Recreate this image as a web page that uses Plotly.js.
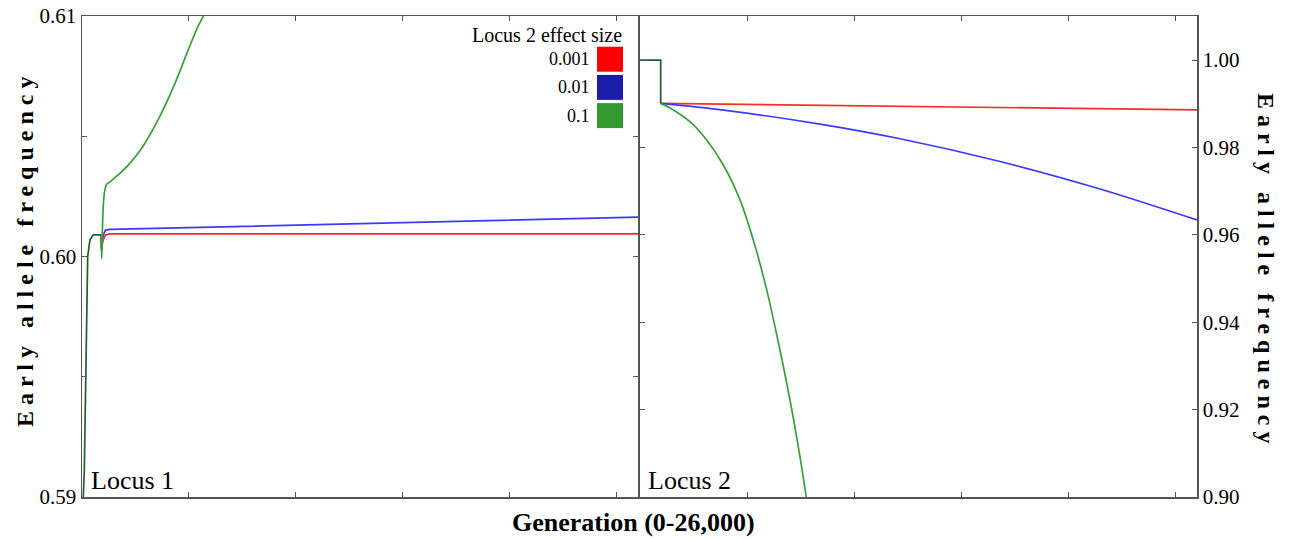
<!DOCTYPE html>
<html>
<head>
<meta charset="utf-8">
<script src="https://cdn.plot.ly/plotly-3.0.1.min.js"></script>
<style>html,body{margin:0;padding:0;background:#fff;}#chart{width:1291px;height:540px;}</style>
</head>
<body>
<div id="chart"></div>
<script>
// ---------------- DATA ----------------
// Locus 1 (left panel): generations and early allele frequency
const l1SharedGen = [0, 61, 108, 173, 234, 267, 374, 528, 888];
const l1SharedVal = [0.5000, 0.5900, 0.5911, 0.5949, 0.5987, 0.6000, 0.6007, 0.6009, 0.6009];

const l1RedGen = [888, 915, 945, 1000, 1100, 1300, 5000, 15000, 26000];
const l1RedVal = [0.6009, 0.6003, 0.6005, 0.6007, 0.6009, 0.60094, 0.60094, 0.60094, 0.60094];

const l1BlueGen = [888, 915, 945, 1000, 1100, 1300, 5000, 10000, 15000, 20000, 26000];
const l1BlueVal = [0.6009, 0.6003, 0.6007, 0.6009, 0.6011, 0.60113, 0.6012, 0.6013, 0.6014, 0.6015, 0.60164];

const l1GreenGen = [888, 921, 950, 1000, 1060, 1150, 1309, 1697, 2165, 2792, 3568, 4349, 4971, 5438, 5672, 6079];
const l1GreenVal = [0.6009, 0.5999, 0.6010, 0.6022, 0.6027, 0.6030, 0.6031, 0.6034, 0.6038, 0.6045, 0.6057, 0.6072, 0.6086, 0.6096, 0.6100, 0.6113];

// Locus 2 (right panel)
const l2SharedGen = [0, 966, 966];
const l2SharedVal = [1.0000, 1.0000, 0.9901];

const l2RedGen = [966, 12137, 26000];
const l2RedVal = [0.9901, 0.9894, 0.9886];

const l2BlueGen = [966, 4000, 8403, 12137, 16805, 21473, 26000];
const l2BlueVal = [0.9901, 0.9885, 0.98535, 0.9820, 0.9768, 0.9705, 0.9634];

const l2GreenGen = [966, 1554, 2334, 3114, 3889, 4669, 5289, 5915, 6535, 7002, 7469, 7782, 8170];
const l2GreenVal = [0.9901, 0.9886, 0.9859, 0.9817, 0.9760, 0.9680, 0.9588, 0.9474, 0.9336, 0.9222, 0.9092, 0.8993, 0.8850];

// Labels
const legendTitle = 'Locus 2 effect size';
const effectSizes = ['0.001', '0.01', '0.1'];
const panelLabels = ['Locus 1', 'Locus 2'];
const yTitle = 'Early allele frequency';
const xTitle = 'Generation (0-26,000)';
const xTickVals = [5000, 10000, 15000, 20000, 25000];
const y1TickVals = [0.59, 0.595, 0.60, 0.605, 0.61];
const y1TickText = ['0.59', '', '0.60', '', '0.61'];
const y2TickVals = [0.90, 0.92, 0.94, 0.96, 0.98, 1.00];

// ---------------- STYLE ----------------
const lineColors = ['#ff2a2a', '#3b3bff', '#3a9e3a'];
const swatchColors = ['#ff0000', '#1c1caa', '#339933'];
const sharedColor = '#1f5f2f';
const FONT = '"Liberation Serif", "Times New Roman", serif';
const W = 1291, H = 540;

function tr(x, y, color, xa, ya, smooth) {
  const line = {color: color, width: 1.7};
  if (smooth) { line.shape = 'spline'; line.smoothing = smooth; }
  return {x: x, y: y, type: 'scatter', mode: 'lines', xaxis: xa, yaxis: ya,
          line: line, hoverinfo: 'skip', showlegend: false};
}

const traces = [
  tr(l1RedGen, l1RedVal, lineColors[0], 'x', 'y'),
  tr(l1BlueGen, l1BlueVal, lineColors[1], 'x', 'y'),
  tr(l1GreenGen, l1GreenVal, lineColors[2], 'x', 'y', 0.8),
  tr(l1SharedGen, l1SharedVal, sharedColor, 'x', 'y'),
  tr(l2RedGen, l2RedVal, lineColors[0], 'x2', 'y2'),
  tr(l2BlueGen, l2BlueVal, lineColors[1], 'x2', 'y2', 1),
  tr(l2GreenGen, l2GreenVal, lineColors[2], 'x2', 'y2', 1),
  tr(l2SharedGen, l2SharedVal, sharedColor, 'x2', 'y2')
];

// pixel layout of panels
const L1 = 82, R1 = 638, L2 = 640, R2 = 1197, TOP = 16, BOT = 497;
const axCommon = {
  showgrid: false, zeroline: false, linecolor: '#555', linewidth: 1.5,
  mirror: 'ticks', ticks: 'inside', ticklen: 5, tickwidth: 1, tickcolor: '#555',
  tickfont: {family: FONT, size: 21, color: '#000'}
};

const layout = {
  width: W, height: H,
  margin: {l: 0, r: 0, t: 0, b: 0},
  paper_bgcolor: '#fff', plot_bgcolor: '#fff',
  showlegend: false,
  font: {family: FONT, color: '#000'},
  xaxis: Object.assign({}, axCommon, {domain: [L1 / W, R1 / W], range: [0, 26000],
    tickvals: xTickVals, showticklabels: false, anchor: 'y'}),
  yaxis: Object.assign({}, axCommon, {domain: [1 - BOT / H, 1 - TOP / H], range: [0.59, 0.61],
    tickvals: y1TickVals, ticktext: y1TickText, anchor: 'x'}),
  xaxis2: Object.assign({}, axCommon, {domain: [L2 / W, R2 / W], range: [0, 26000],
    tickvals: xTickVals, showticklabels: false, anchor: 'y2'}),
  yaxis2: Object.assign({}, axCommon, {domain: [1 - BOT / H, 1 - TOP / H], range: [0.90, 1.0101],
    tickvals: y2TickVals, tickformat: '.2f', side: 'right', anchor: 'x2'}),
  annotations: [],
  shapes: []
};

// panel labels
layout.annotations.push({xref: 'x domain', yref: 'y domain', x: 0.012, y: 0.0,
  xanchor: 'left', yanchor: 'bottom', text: panelLabels[0], showarrow: false,
  font: {family: FONT, size: 26, color: '#000'}});
layout.annotations.push({xref: 'x2 domain', yref: 'y2 domain', x: 0.011, y: 0.0,
  xanchor: 'left', yanchor: 'bottom', text: panelLabels[1], showarrow: false,
  font: {family: FONT, size: 26, color: '#000'}});

// legend (title + right-aligned labels with swatches on the right)
const pxToXd = px => (px - L1) / (R1 - L1);
const pxToYd = py => (BOT - py) / (BOT - TOP);
layout.annotations.push({xref: 'x domain', yref: 'y domain', x: pxToXd(624), y: pxToYd(35),
  xanchor: 'right', yanchor: 'middle', text: legendTitle, showarrow: false,
  font: {family: FONT, size: 20, color: '#000'}});
effectSizes.forEach((lab, i) => {
  const top = 46.7 + i * 28.2;
  layout.shapes.push({type: 'rect', xref: 'x domain', yref: 'y domain',
    x0: pxToXd(597), x1: pxToXd(623), y0: pxToYd(top + 25), y1: pxToYd(top),
    fillcolor: swatchColors[i], line: {width: 0}});
  layout.annotations.push({xref: 'x domain', yref: 'y domain', x: pxToXd(592), y: pxToYd(top + 12.5),
    xanchor: 'right', yanchor: 'middle', text: lab, showarrow: false,
    font: {family: FONT, size: 18, color: '#000'}});
});

// axis titles (spaced bold letters)
const spaced = yTitle.split(' ').map(w => w.split('').join(' ')).join('\u00a0\u00a0\u00a0');
layout.annotations.push({xref: 'paper', yref: 'paper', x: 25 / W, y: 1 - 252 / H,
  xanchor: 'center', yanchor: 'middle', textangle: -90, text: '<b>' + spaced + '</b>', showarrow: false,
  font: {family: FONT, size: 24, color: '#000'}});
layout.annotations.push({xref: 'paper', yref: 'paper', x: 1266 / W, y: 1 - 268 / H,
  xanchor: 'center', yanchor: 'middle', textangle: 90, text: '<b>' + spaced + '</b>', showarrow: false,
  font: {family: FONT, size: 24, color: '#000'}});
layout.annotations.push({xref: 'paper', yref: 'paper', x: 633 / W, y: 1 - 522 / H,
  xanchor: 'center', yanchor: 'middle', text: '<b>' + xTitle + '</b>', showarrow: false,
  font: {family: FONT, size: 26, color: '#000'}});

Plotly.newPlot('chart', traces, layout, {staticPlot: true, displayModeBar: false});
</script>
</body>
</html>
